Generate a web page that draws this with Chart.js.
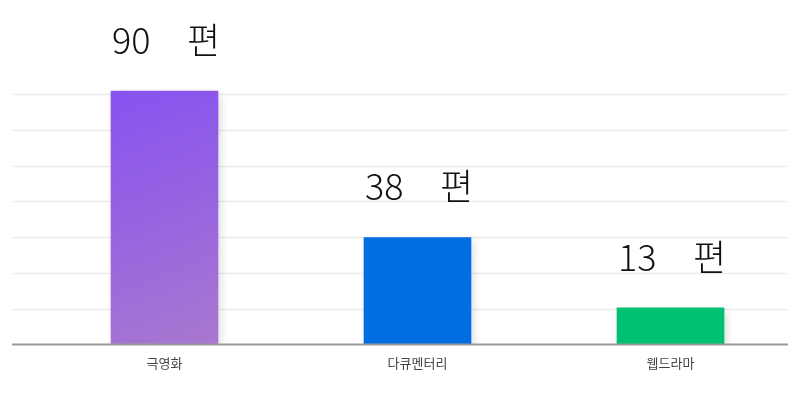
<!DOCTYPE html>
<html>
<head>
<meta charset="utf-8">
<script src="https://cdn.jsdelivr.net/npm/chart.js@4"></script>
<style>
  html, body { margin: 0; padding: 0; background: #fff; }
  #wrap { width: 800px; height: 400px; }
</style>
</head>
<body>
<div id="wrap"><canvas id="genre-chart"></canvas></div>
<script>
// data
const categories = ['극영화', '다큐멘터리', '웹드라마'];
const counts = [90, 38, 13];
const unit = '편';
const gridTicks = [0, 12.7, 25.4, 38.1, 50.8, 63.5, 76.2, 88.9];
const gradientStops = ['#8752f0', '#a878cf'];
const solidColors = ['#006de3', '#00c073'];

const FONT = '"Noto Sans CJK KR", "Noto Sans", sans-serif';

// first bar is a diagonal gradient, the others are flat
function barColor(ctx) {
    const chart = ctx.chart;
    const i = ctx.dataIndex;
    if (i > 0) return solidColors[i - 1];
    if (!chart.chartArea) return gradientStops[0];
    const x = chart.scales.x, y = chart.scales.y;
    const cx = x.getPixelForValue(i);
    const g = chart.ctx.createLinearGradient(cx - 50, y.getPixelForValue(counts[i]), cx + 50, y.getPixelForValue(0));
    g.addColorStop(0, gradientStops[0]);
    g.addColorStop(1, gradientStops[1]);
    return g;
}

const gridPlugin = {
    id: 'gridLines',
    beforeDatasetsDraw(chart) {
        const { ctx, scales: { y } } = chart;
        ctx.save();
        ctx.strokeStyle = '#ececec';
        ctx.lineWidth = 1.5;
        gridTicks.slice(1).forEach(t => {
            const py = Math.round(y.getPixelForValue(t)) + 0.5;
            ctx.beginPath();
            ctx.moveTo(12, py);
            ctx.lineTo(788, py);
            ctx.stroke();
        });
        ctx.restore();
        // soft shadow under the bars
        ctx.save();
        ctx.shadowColor = 'rgba(0,0,0,0.13)';
        ctx.shadowBlur = 8;
        ctx.shadowOffsetX = 3;
        ctx.shadowOffsetY = 4;
    },
    afterDatasetsDraw(chart) {
        const { ctx, scales: { y } } = chart;
        ctx.restore();
        const py = y.getPixelForValue(0);
        ctx.save();
        ctx.strokeStyle = '#999';
        ctx.lineWidth = 2;
        ctx.beginPath();
        ctx.moveTo(12, py);
        ctx.lineTo(788, py);
        ctx.stroke();

        // value labels: number + unit above each bar
        const meta = chart.getDatasetMeta(0);
        ctx.fillStyle = '#111';
        ctx.textBaseline = 'alphabetic';
        ctx.textAlign = 'left';
        ctx.font = '300 36px ' + FONT;
        meta.data.forEach((bar, i) => {
            const left = bar.x - bar.width / 2;
            const base = bar.y - 37;
            ctx.fillText(String(counts[i]), left + 1, base);
            ctx.fillText(unit, left + 76, base);
        });
        ctx.restore();
    }
};

new Chart(document.getElementById('genre-chart'), {
    type: 'bar',
    data: {
        labels: categories,
        datasets: [{
            data: counts,
            backgroundColor: barColor,
            barThickness: 107,
            borderWidth: 0
        }]
    },
    options: {
        responsive: true,
        maintainAspectRatio: false,
        animation: false,
        layout: { padding: { left: 38, right: 3, top: 63, bottom: 18 } },
        plugins: {
            legend: { display: false },
            tooltip: { enabled: false }
        },
        scales: {
            x: {
                grid: { display: false, drawTicks: false },
                border: { display: false },
                ticks: {
                    color: '#444',
                    padding: 11,
                    font: { family: FONT, size: 13 }
                }
            },
            y: {
                display: false,
                min: 0,
                max: 100,
                afterBuildTicks(scale) {
                    scale.ticks = gridTicks.map(v => ({ value: v }));
                }
            }
        }
    },
    plugins: [gridPlugin]
});
</script>
</body>
</html>
